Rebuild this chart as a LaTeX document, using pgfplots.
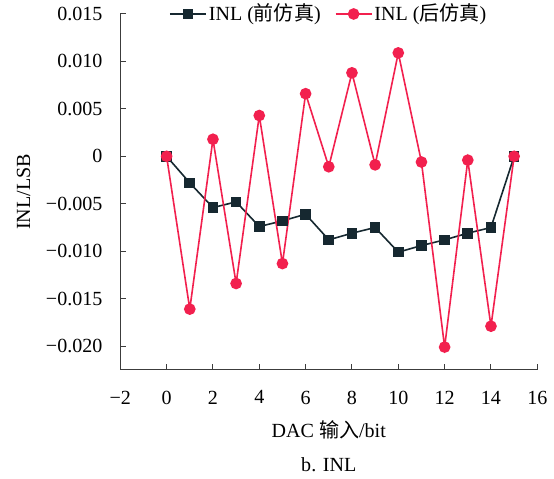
\documentclass[border=0pt]{standalone}
\usepackage{fontspec}
\setmainfont{Liberation Serif}
\newfontfamily\cjk{Noto Sans CJK SC}
\usepackage{pgfplots}
\pgfplotsset{compat=1.18}
\definecolor{preline}{RGB}{22,40,48}
\definecolor{postline}{RGB}{242,32,78}
\definecolor{axisgray}{RGB}{60,60,60}

\begin{document}
\fontsize{20}{24}\selectfont
\begin{tikzpicture}
\begin{axis}[
    width=416pt, height=355pt,
    scale only axis,
    xmin=-2, xmax=16,
    ymin=-0.0225, ymax=0.015,
    axis lines=left,
    axis line style={-, axisgray, line width=1.2pt},
    tick style={axisgray, line width=1pt},
    tick align=inside,
    major tick length=6pt,
    xtick={-2,0,...,16},
    xticklabels={−2,0,2,4,6,8,10,12,14,16},
    ytick={-0.02,-0.015,-0.01,-0.005,0,0.005,0.01,0.015},
    yticklabels={−0.020,−0.015,−0.010,−0.005,0,0.005,0.010,0.015},
    scaled y ticks=false,
    tick label style={font=\fontsize{20}{24}\selectfont},
    yticklabel style={xshift=-11pt},
    xticklabel style={yshift=-14pt},
    xlabel={DAC {\cjk 输入}/bit},
    ylabel={INL/LSB},
    label style={font=\fontsize{20}{24}\selectfont},
    xlabel style={name=xl, yshift=-3pt},
    ylabel style={name=yl, yshift=2pt},
    legend columns=2,
    legend style={draw=none, fill=none, at={(0.5,1.0)}, anchor=center,
        font=\fontsize{20}{24}\selectfont,
        /tikz/every even column/.append style={column sep=12pt}},
    legend image code/.code={
        \draw[mark repeat=2, mark phase=2]
            plot coordinates {(0pt,0pt) (18pt,0pt) (36pt,0pt)};},
    legend cell align=left,
    clip=false,
]
\addplot[color=preline, line width=1.6pt, mark=square*, mark size=4.5pt,
    mark options={fill=preline}] coordinates {
    (0, 0) (1, -0.0028) (2, -0.0054) (3, -0.0048) (4, -0.0074)
    (5, -0.0068) (6, -0.0061) (7, -0.0088) (8, -0.0081) (9, -0.0075)
    (10, -0.0101) (11, -0.0094) (12, -0.0088) (13, -0.0081) (14, -0.0075)
    (15, 0)
};
\addlegendentry{INL ({\cjk 前仿真})}
\addplot[color=postline, line width=1.6pt, mark=*, mark size=5pt,
    mark options={fill=postline}] coordinates {
    (0, 0) (1, -0.0161) (2, 0.0018) (3, -0.0134) (4, 0.0043)
    (5, -0.0113) (6, 0.0066) (7, -0.0011) (8, 0.0088) (9, -0.0009)
    (10, 0.0109) (11, -0.0006) (12, -0.0201) (13, -0.0004) (14, -0.0179)
    (15, 0)
};
\addlegendentry{INL ({\cjk 后仿真})}
\end{axis}
\node[below=4pt] at (xl.south) {b. INL};
\path (yl.north) ++(-10pt,0);
\end{tikzpicture}
\end{document}
